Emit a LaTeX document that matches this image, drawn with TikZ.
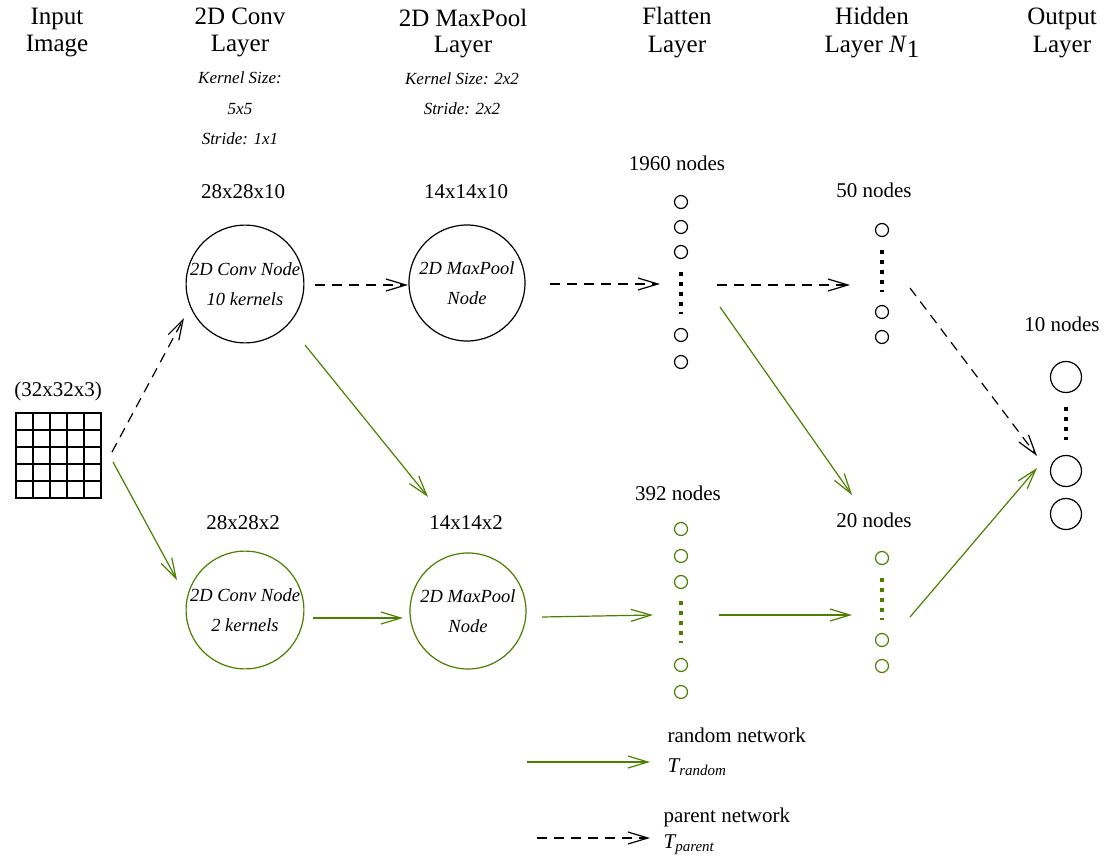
\documentclass[tikz,border=0pt]{standalone}
\usepackage{fontspec}
\setmainfont{Liberation Serif}
\usetikzlibrary{arrows.meta,calc}
\definecolor{grn}{RGB}{76,128,0}
\begin{document}
\begin{tikzpicture}[x=1pt,y=-1pt, line width=1.2pt,
  arr/.style={-{Straight Barb[length=20pt,width=12pt]}},
  dsh/.style={dash pattern=on 10pt off 7pt},
  gline/.style={draw=grn},
  ttl/.style={anchor=base, font=\fontsize{25}{28}\selectfont, inner sep=0pt},
  lab/.style={anchor=base, font=\fontsize{21}{24}\selectfont, inner sep=0pt},
  sm/.style={anchor=base, font=\fontsize{17}{20}\selectfont\itshape, inner sep=0pt},
  big/.style={circle, draw, minimum size=116pt, inner sep=0pt, font=\fontsize{18.5}{30}\selectfont\itshape, align=center},
  neu/.style={circle, draw, minimum size=13pt, inner sep=0pt},
  outn/.style={circle, draw, minimum size=31pt, inner sep=0pt},
  gridline/.style={line width=1.5pt},
  dots/.style={line width=3.5pt, dash pattern=on 3.5pt off 6.5pt}]
\useasboundingbox (0,0) rectangle (1116,861);

% titles
\node[ttl] (t1a) at (57,25) {Input};
\node[ttl] (t1b) at (57,52) {Image};
\node[ttl] (t2a) at (240,25) {2D Conv};
\node[ttl] (t2b) at (240,52) {Layer};
\node[ttl] (t3a) at (463,27) {2D MaxPool};
\node[ttl] (t3b) at (463,53) {Layer};
\node[ttl] (t4a) at (677,25) {Flatten};
\node[ttl] (t4b) at (677,53) {Layer};
\node[ttl] (t5a) at (872,25) {Hidden};
\node[ttl] (t5b) at (872,53) {Layer \textit{N}\raisebox{-0.35ex}{1}};
\node[ttl] (t6a) at (1062,25) {Output};
\node[ttl] (t6b) at (1062,53) {Layer};

\node[sm] (k1) at (240,84) {Kernel Size:};
\node[sm] (k2) at (240,115) {5x5};
\node[sm] (k3) at (240,145) {Stride: 1x1};
\node[sm] (k4) at (462,85) {Kernel Size: 2x2};
\node[sm] (k5) at (462,115) {Stride: 2x2};

% input grid
\node[lab] (inlab) at (58,396) {(32x32x3)};
\node[draw, gridline, minimum width=85pt, minimum height=85pt, inner sep=0pt, outer sep=0pt] (grid) at (58.5,455.5) {};
\foreach \k in {1,...,4} {
  \draw[gridline] ($(grid.north west)+(17*\k,0)$) -- ($(grid.south west)+(17*\k,0)$);
  \draw[gridline] ($(grid.north west)+(0,17*\k)$) -- ($(grid.north east)+(0,17*\k)$);
}

% big nodes
\node[lab] (l1) at (243,199) {28x28x10};
\node[lab] (l2) at (466,199) {14x14x10};
\node[lab] (l3) at (243,529) {28x28x2};
\node[lab] (l4) at (466,529) {14x14x2};
\node[big] (c1) at (245,284) {2D Conv Node\\10 kernels};
\node[big] (m1) at (467,283) {2D MaxPool\\Node};
\node[big, draw=grn] (c2) at (245,610) {2D Conv Node\\2 kernels};
\node[big, draw=grn] (m2) at (468,611) {2D MaxPool\\Node};

% flatten top
\node[lab] (f1lab) at (677,171) {1960 nodes};
\foreach \y [count=\i] in {202,227,252,335,362} \node[neu] (fa\i) at (681,\y) {};
\draw[dots] (fa3.south) ++(0,13) coordinate (fad1) -- ++(0,42) coordinate (fad2);
% flatten bottom
\node[lab] (f2lab) at (678,500) {392 nodes};
\foreach \y [count=\i] in {529,556,582,665,692} \node[neu, draw=grn] (fb\i) at (681,\y) {};
\draw[dots, grn] (fb3.south) ++(0,12) coordinate (fbd1) -- ++(0,42) coordinate (fbd2);
% hidden top
\node[lab] (h1lab) at (874,197) {50 nodes};
\foreach \y [count=\i] in {230,312,337} \node[neu] (ha\i) at (882,\y) {};
\draw[dots] (ha1.south) ++(0,13) coordinate (had1) -- ++(0,42) coordinate (had2);
% hidden bottom
\node[lab] (h2lab) at (874,527) {20 nodes};
\foreach \y [count=\i] in {558,640,666} \node[neu, draw=grn] (hb\i) at (882,\y) {};
\draw[dots, grn] (hb1.south) ++(0,13) coordinate (hbd1) -- ++(0,42) coordinate (hbd2);
% output
\node[lab] (olab) at (1062,331) {10 nodes};
\foreach \y [count=\i] in {377,471,514} \node[outn] (o\i) at (1066,\y) {};
\draw[dots] (o1.south) ++(0,14) coordinate (od1) -- ++(0,33) coordinate (od2);

% connector end coordinates
\coordinate (pA) at (112,452); \coordinate (pB) at (184,318);
\coordinate (pC) at (113,462); \coordinate (pD) at (177,580);
\coordinate (pE) at (305,345); \coordinate (pF) at (428,497);
\coordinate (pG) at (550,284); \coordinate (pH) at (660,284);
\coordinate (pI) at (542,617); \coordinate (pJ) at (653,615);
\coordinate (pK) at (717,285); \coordinate (pL) at (850,285);
\coordinate (pM) at (720,307); \coordinate (pN) at (852,495);
\coordinate (pO) at (719,615); \coordinate (pP) at (852,615);
\coordinate (pQ) at (910,288); \coordinate (pR) at (1037,456);
\coordinate (pS) at (910,617); \coordinate (pT) at (1037,468);
\coordinate (pU) at (315,285); \coordinate (pV) at (408,285);
\coordinate (pW) at (313,618); \coordinate (pX) at (403,618);

% connectors
\draw[arr, dsh] (pA) -- (pB);
\draw[arr, gline] (pC) -- (pD);
\draw[arr, dsh] (pU) -- (pV);
\draw[arr, gline] (pE) -- (pF);
\draw[arr, gline] (pW) -- (pX);
\draw[arr, dsh] (pG) -- (pH);
\draw[arr, gline] (pI) -- (pJ);
\draw[arr, dsh] (pK) -- (pL);
\draw[arr, gline] (pM) -- (pN);
\draw[arr, gline] (pO) -- (pP);
\draw[arr, dsh] (pQ) -- (pR);
\draw[arr, gline] (pS) -- (pT);

% legend
\coordinate (lg1) at (527,762); \coordinate (lg2) at (650,762);
\coordinate (lg3) at (537,838); \coordinate (lg4) at (650,838);
\draw[arr, gline] (lg1) -- (lg2);
\draw[arr, dsh] (lg3) -- (lg4);
\node[lab, anchor=base west] (r1) at (667,742) {random network};
\node[lab, anchor=base west] (r2) at (667,772) {\textit{T\raisebox{-0.4ex}{\fontsize{15}{18}\selectfont random}}};
\node[lab, anchor=base west] (p1) at (663,822) {parent network};
\node[lab, anchor=base west] (p2) at (663,848) {\textit{T\raisebox{-0.4ex}{\fontsize{15}{18}\selectfont parent}}};
\end{tikzpicture}
\end{document}
